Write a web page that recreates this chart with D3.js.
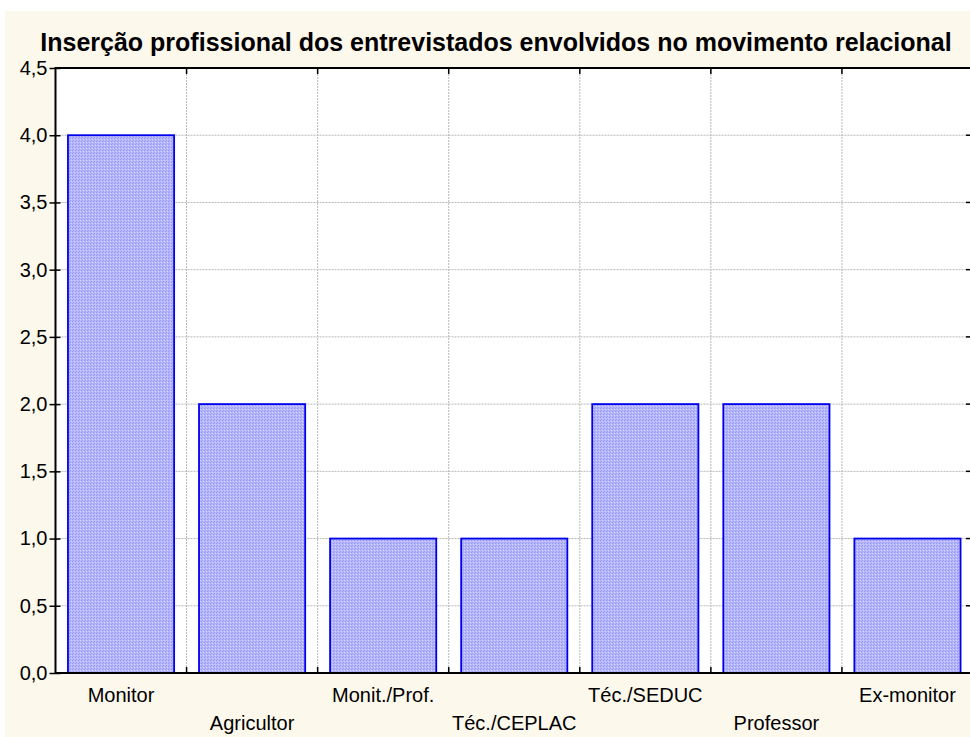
<!DOCTYPE html>
<html><head><meta charset="utf-8">
<script src="https://cdn.jsdelivr.net/npm/d3@7"></script>
<style>body{margin:0;background:#fff}svg{display:block}</style>
</head><body>
<svg id="chart" width="970" height="737"></svg>
<script>
const categories = ["Monitor","Agricultor","Monit./Prof.","Téc./CEPLAC","Téc./SEDUC","Professor","Ex-monitor"];
const values = [4,2,1,1,2,2,1];
const yTicks = [0,0.5,1,1.5,2,2.5,3,3.5,4,4.5];
const title = "Inserção profissional dos entrevistados envolvidos no movimento relacional";

const svg = d3.select("#chart");
const W = 970, H = 737;
const m = {left:55.5, top:68, bottom:673, right:973};
const FONT = "Liberation Sans, Arial, sans-serif";

svg.append("rect").attr("x",5).attr("y",11).attr("width",W-5).attr("height",H-11).attr("fill","#fdf8ec");

const defs = svg.append("defs");
const pat = defs.append("pattern").attr("id","hatch").attr("patternUnits","userSpaceOnUse").attr("width",3).attr("height",3);
pat.append("rect").attr("width",3).attr("height",3).attr("fill","#b6b6fb");
pat.append("rect").attr("x",0).attr("y",0).attr("width",1).attr("height",1).attr("fill","#9494f4");
pat.append("rect").attr("x",2).attr("y",1).attr("width",1).attr("height",1).attr("fill","#d2d2ff");
pat.append("rect").attr("x",1).attr("y",2).attr("width",1).attr("height",1).attr("fill","#a0a0f6");

const clip = defs.append("clipPath").attr("id","clip");
clip.append("rect").attr("x",0).attr("y",0).attr("width",W).attr("height",H);

const x = d3.scaleBand().domain(categories).range([m.left,m.right]).paddingInner(0.19).paddingOuter(0.095);
const bandStep = x.step();
const y = d3.scaleLinear().domain([0,4.5]).range([m.bottom,m.top]);

const g = svg.append("g").attr("clip-path","url(#clip)");
g.append("rect").attr("x",m.left).attr("y",m.top).attr("width",m.right-m.left).attr("height",m.bottom-m.top).attr("fill","#fff");

// grid
g.selectAll(".hg").data(yTicks.slice(1,-1)).enter().append("line")
  .attr("x1",m.left).attr("x2",m.right).attr("y1",d=>y(d)).attr("y2",d=>y(d))
  .attr("stroke","#b8b8b8").attr("stroke-width",1).attr("stroke-dasharray","2,1");
const bounds = d3.range(1,categories.length).map(i=>m.left + i*bandStep);
g.selectAll(".vg").data(bounds).enter().append("line")
  .attr("x1",d=>d).attr("x2",d=>d).attr("y1",m.top).attr("y2",m.bottom)
  .attr("stroke","#b8b8b8").attr("stroke-width",1).attr("stroke-dasharray","2,1");

// bars
g.selectAll(".bar").data(values).enter().append("rect")
  .attr("x",(d,i)=>x(categories[i])).attr("y",d=>y(d))
  .attr("width",x.bandwidth()).attr("height",d=>y(0)-y(d))
  .attr("fill","url(#hatch)").attr("stroke","#0000ee").attr("stroke-width",1.8);

// frame
g.append("line").attr("x1",m.left).attr("x2",m.right).attr("y1",m.top).attr("y2",m.top).attr("stroke","#000").attr("stroke-width",2);
g.append("line").attr("x1",m.left).attr("x2",m.right).attr("y1",m.bottom).attr("y2",m.bottom).attr("stroke","#000").attr("stroke-width",2);
g.append("line").attr("x1",m.left).attr("x2",m.left).attr("y1",m.top-1).attr("y2",m.bottom+1).attr("stroke","#000").attr("stroke-width",2);

// y axis
const yAxis = d3.axisLeft(y).tickValues(yTicks).tickFormat(d=>d3.format(".1f")(d).replace(".",",")).tickSize(6).tickPadding(3);
const ya = svg.append("g").attr("transform",`translate(${m.left},0)`).call(yAxis);
ya.attr("font-size",null).attr("font-family",null);
ya.select(".domain").remove();
ya.selectAll(".tick line").attr("stroke","#000").attr("stroke-width",1.5).attr("x2",-6).attr("x1",5);
ya.selectAll("text").style("font-family",FONT).style("font-size","20px").attr("fill","#000").attr("x",-8);
// right inner ticks
g.selectAll(".rt").data(yTicks).enter().append("line")
  .attr("x1",966).attr("x2",m.right).attr("y1",d=>y(d)).attr("y2",d=>y(d)).attr("stroke","#000").attr("stroke-width",1.5);

// x axis ticks (inner) top and bottom
g.selectAll(".bt").data(bounds).enter().append("line")
  .attr("x1",d=>d).attr("x2",d=>d).attr("y1",m.bottom).attr("y2",m.bottom-6).attr("stroke","#000").attr("stroke-width",1.5);
g.selectAll(".tt").data(bounds).enter().append("line")
  .attr("x1",d=>d).attr("x2",d=>d).attr("y1",m.top).attr("y2",m.top+6).attr("stroke","#000").attr("stroke-width",1.5);

// x labels staggered
const xAxis = d3.axisBottom(x).tickSize(0).tickPadding(0);
const xa = svg.append("g").attr("transform",`translate(0,${m.bottom})`).call(xAxis);
xa.attr("font-size",null).attr("font-family",null);
xa.select(".domain").remove();
xa.selectAll(".tick text")
  .style("font-family",FONT).style("font-size","20px").attr("fill","#000")
  .attr("dy",null)
  .attr("y",(d,i)=> i%2===0 ? 29 : 57);

// title
svg.append("text").attr("x",496).attr("y",51).attr("text-anchor","middle")
  .style("font-family",FONT).style("font-weight","bold").style("font-size","25px")
  .attr("fill","#000").text(title);
</script>
</body></html>
